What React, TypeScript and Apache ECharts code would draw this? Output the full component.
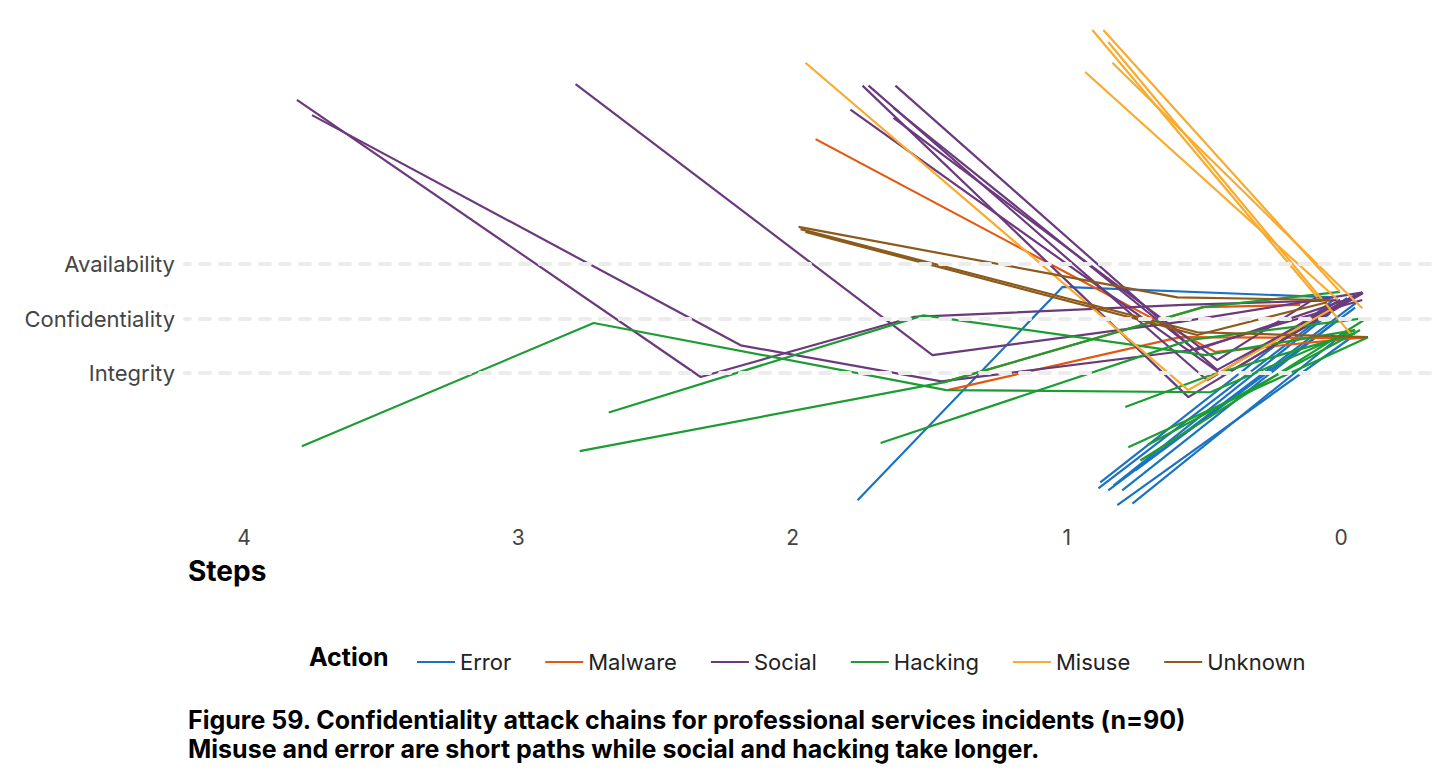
import { useEffect, useRef } from "react";
import * as echarts from "echarts";

const actions = ["Error", "Malware", "Social", "Hacking", "Misuse", "Unknown"];
const colors: Record<string, string> = {
  Error: "#1a72c2",
  Malware: "#e4570e",
  Social: "#6b3a7d",
  Hacking: "#1c9c33",
  Misuse: "#f9ab2f",
  Unknown: "#8b5a1c",
};
const stepTicks = [0, 1, 2, 3, 4];
const attributeLabels: Record<number, string> = { 1: "Integrity", 2: "Confidentiality", 3: "Availability" };

const errorPaths = [
  [[1.763, -1.33], [1.016, 2.58], [0.029, 2.39]],
  [[0.878, -1.0], [0.029, 2.34]],
  [[0.885, -1.11], [-0.022, 2.38]],
  [[0.849, -1.15], [-0.058, 2.3]],
  [[0.798, -1.15], [0.004, 2.01]],
  [[0.816, -1.42], [-0.033, 1.64]],
  [[0.761, -1.39], [-0.015, 1.75]],
  [[0.75, -0.78], [-0.051, 2.2]],
  [[0.83, -1.06], [0.04, 2.1]],
];
const malwarePaths = [
  [[1.916, 5.29], [0.459, 1.39], [-0.087, 1.66]],
  [[1.45, 0.83], [0.503, 2.21], [0.149, 2.25]],
  [[1.435, 0.69], [0.587, 1.66], [-0.087, 1.64]],
];
const socialPaths = [
  [[3.807, 6.01], [2.335, 0.93], [1.559, 2.03], [0.576, 2.25], [0.004, 2.34]],
  [[3.752, 5.73], [2.189, 1.51], [1.457, 0.85], [0.55, 1.42], [-0.077, 2.34]],
  [[2.791, 6.3], [1.49, 1.33], [0.587, 1.94], [-0.069, 2.47]],
  [[1.745, 6.27], [0.557, 0.56], [-0.077, 2.49]],
  [[1.723, 6.27], [0.488, 0.87], [0.004, 2.34]],
  [[1.625, 6.27], [0.452, 1.06], [-0.051, 2.43]],
  [[1.789, 5.83], [0.43, 0.96], [-0.08, 2.47]],
  [[1.632, 5.68], [0.452, 1.24], [0.077, 2.43]],
  [[1.632, 5.86], [0.532, 1.42], [-0.015, 2.34]],
];
const hackingPaths = [
  [[3.789, -0.34], [2.725, 1.92], [1.439, 0.69], [0.477, 0.65], [-0.051, 1.79]],
  [[2.67, 0.28], [1.523, 2.06], [0.495, 1.33], [-0.051, 1.79]],
  [[2.776, -0.43], [1.45, 0.83], [0.503, 2.21], [0.004, 2.49]],
  [[1.679, -0.28], [0.55, 1.61], [-0.087, 2.01]],
  [[0.787, 0.38], [0.477, 0.96], [-0.051, 1.73]],
  [[0.776, -0.36], [-0.098, 1.66]],
  [[0.707, -0.32], [-0.069, 1.79]],
  [[0.732, -0.6], [-0.095, 2.01]],
];
const misusePaths = [
  [[0.907, 7.29], [0.087, 2.39]],
  [[0.867, 7.29], [0.004, 2.49]],
  [[0.849, 7.07], [-0.033, 1.73]],
  [[0.834, 6.69], [-0.077, 2.19]],
  [[0.933, 6.52], [0.011, 2.34]],
  [[1.953, 6.69], [0.557, 0.69], [0.04, 2.16]],
];
const unknownPaths = [
  [[1.978, 3.68], [0.597, 2.39], [0.04, 2.34]],
  [[1.971, 3.64], [0.525, 1.75], [-0.098, 1.66]],
  [[1.953, 3.59], [0.525, 1.7], [0.051, 2.3]],
];

const pathsByAction: Record<string, number[][][]> = {
  Error: errorPaths,
  Malware: malwarePaths,
  Social: socialPaths,
  Hacking: hackingPaths,
  Misuse: misusePaths,
  Unknown: unknownPaths,
};

const font = "Inter, 'Noto Sans', sans-serif";

export default function App() {
  const ref = useRef<HTMLDivElement>(null);

  useEffect(() => {
    if (!ref.current) return;
    const chart = echarts.init(ref.current, undefined, { renderer: "svg" });

    const lineSeries: any[] = [];
    actions.forEach((action) => {
      pathsByAction[action].forEach((path) => {
        lineSeries.push({
          name: action,
          type: "line",
          data: path,
          symbol: "none",
          color: colors[action],
          lineStyle: { width: 2.2, color: colors[action] },
          emphasis: { disabled: true },
          z: 3,
        });
      });
    });

    chart.setOption({
      animation: false,
      backgroundColor: "#ffffff",
      textStyle: { fontFamily: font },
      grid: { left: 185, right: 10, top: 24, height: 491, outerBoundsMode: "none", containLabel: false },
      xAxis: {
        type: "value",
        inverse: true,
        min: -0.324,
        max: 4.215,
        axisLine: { show: false },
        axisTick: { show: false },
        splitLine: { show: false },
        axisLabel: { customValues: stepTicks, color: "#444", fontSize: 21, margin: 12, fontFamily: font },
      },
      yAxis: {
        type: "value",
        min: -1.6,
        max: 7.4,
        axisLine: { show: false },
        axisTick: { show: false },
        splitLine: { show: false },
        axisLabel: {
          customValues: [1, 2, 3],
          formatter: (v: number) => attributeLabels[v] ?? "",
          color: "#444",
          fontSize: 22,
          margin: 10,
          fontFamily: font,
        },
      },
      legend: {
        data: actions,
        left: 412,
        top: 646,
        icon: "rect",
        itemWidth: 38,
        itemHeight: 2,
        itemGap: 34,
        selectedMode: false,
        textStyle: { fontSize: 22, color: "#222", fontFamily: font },
      },
      graphic: [
        { type: "text", left: 188, top: 557, style: { text: "Steps", font: `bold 28px ${font}`, fill: "#000" } },
        { type: "text", left: 309, top: 644, style: { text: "Action", font: `bold 25px ${font}`, fill: "#000" } },
        {
          type: "text",
          left: 188,
          top: 705,
          style: {
            text: "Figure 59. Confidentiality attack chains for professional services incidents (n=90)\nMisuse and error are short paths while social and hacking take longer.",
            font: `bold 25px ${font}`,
            fill: "#000",
            lineHeight: 29,
          },
        },
      ],
      series: [
        {
          type: "line",
          data: [],
          silent: true,
          z: 1,
          markLine: {
            silent: true,
            symbol: "none",
            label: { show: false },
            emphasis: { disabled: true },
            lineStyle: { color: "#ececec", type: [10, 10], width: 4, cap: "round" },
            data: [{ yAxis: 1 }, { yAxis: 2 }, { yAxis: 3 }],
          },
        },
        ...lineSeries,
      ],
    });

    return () => chart.dispose();
  }, []);

  return <div ref={ref} style={{ position: "absolute", left: 0, top: 0, width: 1440, height: 781 }} />;
}
